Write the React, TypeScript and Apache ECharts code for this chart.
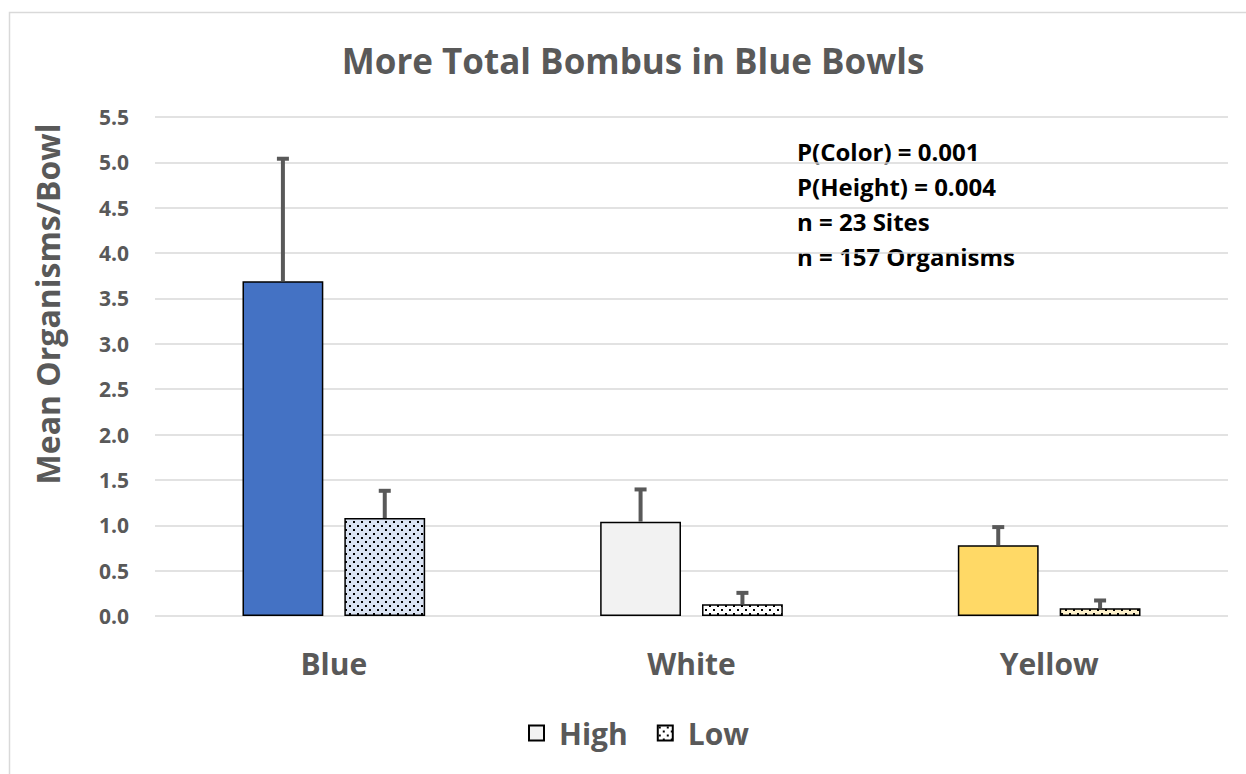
import React, { useEffect, useRef } from "react";
import * as echarts from "echarts";

const categories = ["Blue", "White", "Yellow"];
const seriesNames = ["High", "Low"];
const highMeans = [3.69, 1.04, 0.78];
const lowMeans = [1.08, 0.13, 0.085];
const highErr = [1.35, 0.355, 0.2];
const lowErr = [0.3, 0.125, 0.086];
const yMin = 0;
const yMax = 5.5;
const yInterval = 0.5;
const highColors = ["#4472C4", "#F2F2F2", "#FFD966"];
const lowBgColors = ["#DAE3F3", "#FFFFFF", "#FFF2CC"];
const titleText = "More Total Bombus in Blue Bowls";
const yAxisTitle = "Mean Organisms/Bowl";
const annotationLines = [
  "P(Color) = 0.001",
  "P(Height) = 0.004",
  "n = 23 Sites",
  "n = 157 Organisms",
];

const FONT = '"Open Sans", "Noto Sans", sans-serif';
const GRAY = "#595959";
const BAR_W = 0.226; // fraction of band
const BAR_GAP = 0.26; // fraction of bar width

function dotPattern(bg: string) {
  const c = document.createElement("canvas");
  c.width = 8;
  c.height = 8;
  const ctx = c.getContext("2d")!;
  ctx.fillStyle = bg;
  ctx.fillRect(0, 0, 8, 8);
  ctx.fillStyle = "#000";
  ctx.fillRect(1, 1, 2, 2);
  ctx.fillRect(5, 5, 2, 2);
  return { image: c, repeat: "repeat" } as any;
}

function errorSeries(means: number[], errs: number[], sign: number) {
  return {
    type: "custom",
    z: 10,
    silent: true,
    data: means.map((m, i) => [i, m, errs[i]]),
    renderItem: (params: any, api: any) => {
      const band = api.size([1, 0])[0];
      const bw = band * BAR_W;
      const off = (sign * bw * (1 + BAR_GAP)) / 2;
      const base = api.coord([api.value(0), api.value(1)]);
      const top = api.coord([api.value(0), api.value(1) + api.value(2)]);
      const x = base[0] + off;
      const style = { stroke: GRAY, lineWidth: 4 };
      return {
        type: "group",
        children: [
          { type: "line", shape: { x1: x, y1: base[1], x2: x, y2: top[1] }, style },
          { type: "line", shape: { x1: x - 6, y1: top[1], x2: x + 6, y2: top[1] }, style },
        ],
      };
    },
  };
}

export default function App() {
  const ref = useRef<HTMLDivElement>(null);
  useEffect(() => {
    const chart = echarts.init(ref.current!, undefined, { renderer: "svg" });
    const option: any = {
      animation: false,
      backgroundColor: "#fff",
      grid: { left: 155, right: 18, top: 117, bottom: 158 },
      legend: {
        data: seriesNames,
        left: 523,
        top: 713,
        icon: "rect",
        itemWidth: 15,
        itemHeight: 15,
        itemGap: 29,
        textStyle: {
          color: GRAY,
          fontFamily: FONT,
          fontWeight: "bold",
          fontSize: 30,
          padding: [0, 0, 0, 10],
        },
      },
      xAxis: {
        type: "category",
        data: categories,
        axisLine: { show: false },
        axisTick: { show: false },
        axisLabel: {
          color: GRAY,
          fontFamily: FONT,
          fontWeight: "bold",
          fontSize: 30,
          margin: 32,
        },
      },
      yAxis: {
        type: "value",
        min: yMin,
        max: yMax,
        interval: yInterval,
        axisLine: { show: false },
        axisTick: { show: false },
        splitLine: { lineStyle: { color: "#D9D9D9", width: 1.5 } },
        axisLabel: {
          color: GRAY,
          fontFamily: FONT,
          fontWeight: "bold",
          fontSize: 21,
          margin: 26,
          formatter: (v: number) => v.toFixed(1),
        },
      },
      series: [
        {
          name: seriesNames[0],
          type: "bar",
          barWidth: BAR_W * 100 + "%",
          barGap: BAR_GAP * 100 + "%",
          itemStyle: { color: "#F2F2F2", borderColor: "#000", borderWidth: 1.5 },
          data: highMeans.map((v, i) => ({
            value: v,
            itemStyle: { color: highColors[i] },
          })),
        },
        {
          name: seriesNames[1],
          type: "bar",
          barWidth: BAR_W * 100 + "%",
          barGap: BAR_GAP * 100 + "%",
          itemStyle: { color: dotPattern("#FFFFFF"), borderColor: "#000", borderWidth: 1.5 },
          data: lowMeans.map((v, i) => ({
            value: v,
            itemStyle: { color: dotPattern(lowBgColors[i]) },
          })),
        },
        errorSeries(highMeans, highErr, -1),
        errorSeries(lowMeans, lowErr, 1),
      ],
      graphic: [
        {
          type: "rect",
          silent: true,
          shape: { x: 9.5, y: 12.5, width: 1400, height: 900 },
          style: { fill: "none", stroke: "#D9D9D9", lineWidth: 1.5 },
          z: -10,
        },
        {
          type: "text",
          x: 633,
          y: 60,
          style: {
            text: titleText,
            fill: GRAY,
            font: `bold 35px ${FONT}`,
            textAlign: "center",
            textVerticalAlign: "middle",
          },
        },
        {
          type: "text",
          x: 47,
          y: 304,
          rotation: Math.PI / 2,
          style: {
            text: yAxisTitle,
            fill: GRAY,
            font: `bold 32px ${FONT}`,
            textAlign: "center",
            textVerticalAlign: "middle",
          },
        },
        {
          type: "text",
          x: 797,
          y: 134,
          style: {
            text: annotationLines.join("\n"),
            fill: "#000",
            font: `bold 24px ${FONT}`,
            lineHeight: 35,
            textAlign: "left",
            textVerticalAlign: "top",
          },
        },
      ],
    };
    chart.setOption(option);
    return () => chart.dispose();
  }, []);
  return (
    <div
      ref={ref}
      style={{ position: "fixed", left: 0, top: 0, width: 1246, height: 774 }}
    />
  );
}
